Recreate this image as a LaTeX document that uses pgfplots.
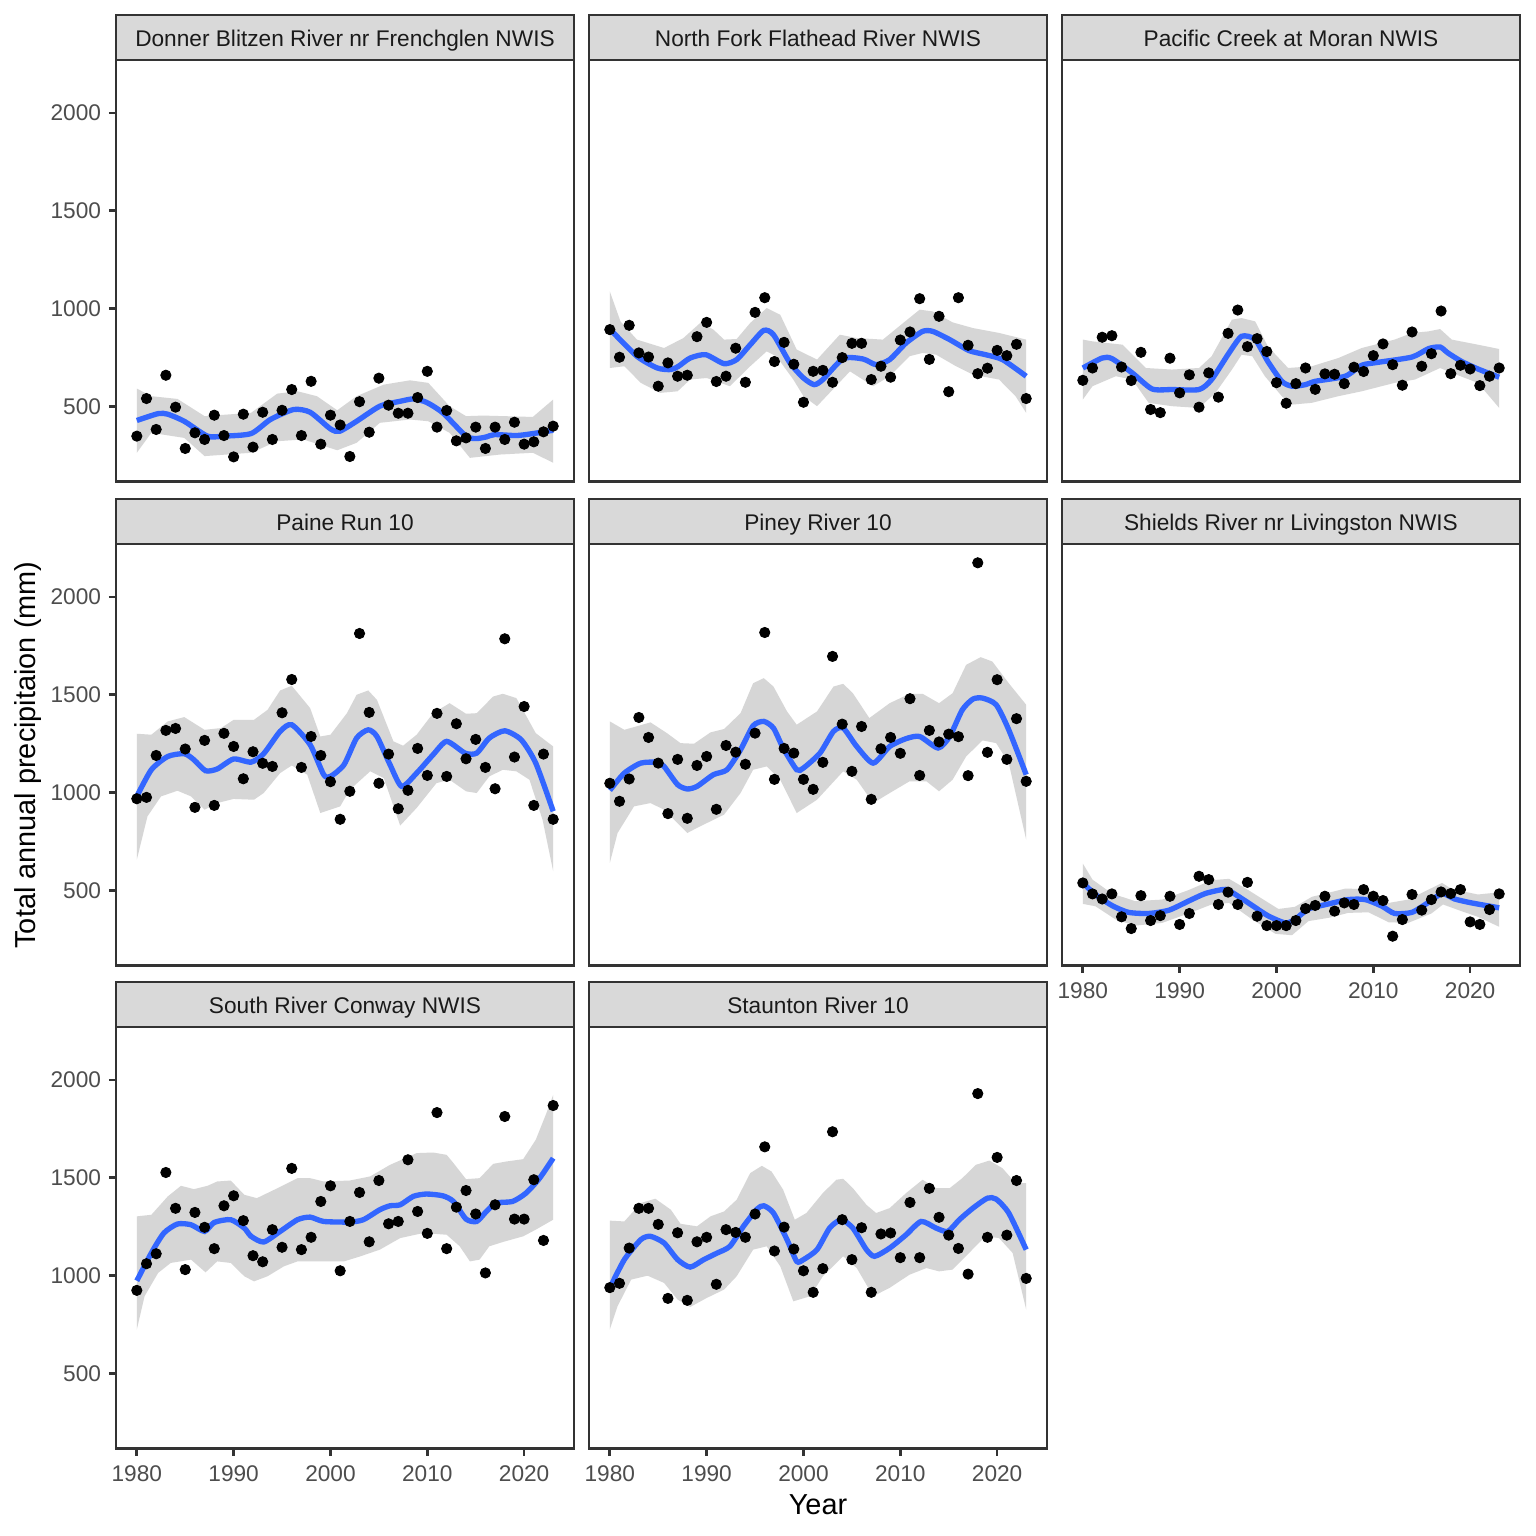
\documentclass[border=0pt]{standalone}
\usepackage{fontspec}
\setmainfont{Liberation Sans}
\usepackage{pgfplots}
\usepackage{pgfplotstable}
\pgfplotsset{compat=1.18}
\definecolor{gray20}{HTML}{333333}
\definecolor{gray30}{HTML}{4D4D4D}
\definecolor{gray85}{HTML}{D9D9D9}
\definecolor{gray10}{HTML}{1A1A1A}
\definecolor{gray60}{HTML}{999999}
\definecolor{smblue}{HTML}{3366FF}

\pgfplotstableread{
yr don nf pac pai pin shi sou sta
1980 349 893 634 969 1048 539 925 939
1981 541 752 697 976 956 483 1061 961
1982 383 915 854 1190 1070 457 1112 1141
1983 660 774 862 1318 1384 483 1527 1344
1984 497 753 702 1328 1282 366 1344 1344
1985 286 604 633 1223 1151 306 1031 1262
1986 366 723 777 925 893 474 1323 884
1987 332 655 485 1267 1170 347 1247 1219
1988 456 660 469 935 869 372 1138 874
1989 352 857 747 1303 1139 471 1357 1173
1990 243 930 570 1236 1185 327 1408 1196
1991 461 628 662 1071 915 383 1281 956
1992 293 655 497 1209 1241 573 1102 1235
1993 471 798 672 1150 1207 556 1071 1221
1994 332 624 548 1134 1145 429 1235 1196
1995 481 981 874 1408 1304 492 1145 1315
1996 587 1056 993 1578 1818 429 1548 1658
1997 352 730 806 1129 1068 542 1133 1126
1998 629 828 847 1287 1226 369 1196 1248
1999 308 716 781 1190 1202 321 1379 1136
2000 456 522 622 1056 1068 321 1459 1025
2001 406 680 517 864 1017 321 1025 915
2002 245 685 617 1007 1155 347 1277 1036
2003 525 624 697 1813 1696 408 1425 1735
2004 369 750 588 1410 1350 424 1173 1286
2005 645 823 667 1048 1109 471 1486 1082
2006 507 823 665 1197 1338 395 1265 1245
2007 466 638 617 918 966 437 1277 915
2008 466 706 701 1012 1224 429 1592 1213
2009 546 650 679 1226 1282 505 1328 1218
2010 680 840 760 1088 1201 471 1216 1092
2011 395 881 820 1405 1480 449 1833 1374
2012 480 1051 714 1083 1088 267 1138 1092
2013 325 741 609 1352 1318 352 1350 1446
2014 340 961 881 1173 1259 480 1435 1298
2015 395 576 706 1272 1299 400 1315 1207
2016 286 1056 770 1129 1286 454 1014 1139
2017 395 813 988 1020 1087 493 1362 1008
2018 332 668 668 1786 2174 485 1813 1930
2019 420 696 711 1182 1206 505 1289 1196
2020 308 787 692 1440 1577 340 1289 1604
2021 320 760 607 935 1170 327 1490 1207
2022 371 818 655 1197 1378 403 1180 1486
2023 400 541 697 864 1058 483 1869 986
}\pts

\pgfplotsset{
  panel/.style={
    scale only axis, width=206.1pt, height=189.7pt,
    anchor=north west,
    xmin=1977.85, xmax=2025.15, ymin=117, ymax=2270,
    axis line style={draw=gray20, line width=1.2pt},
    tick style={draw=gray20, line width=1.2pt},
    tick align=outside, major tick length=3.2pt,
    xtick=\empty, ytick=\empty,
    tick pos=left,
    ticklabel style={font=\fontsize{10.2}{12}\selectfont, text=gray30},
    xticklabel style={yshift=-0.8pt},
  },
  ylab/.style={ytick={500,1000,1500,2000}, yticklabels={500,1000,1500,2000}},
  xlab/.style={xtick={1980,1990,2000,2010,2020}, xticklabels={1980,1990,2000,2010,2020}},
  pts/.style={only marks, mark=*, mark size=2.3pt, black, mark options={draw=black, fill=black}},
  smline/.style={smblue, line width=2.4pt, smooth, tension=0.4},
  bandfill/.style={fill=gray60, fill opacity=0.4, draw=none},
}
\newcommand{\strip}[2]{%
  \draw[draw=gray20, line width=1.2pt, fill=gray85] (#1.north west) rectangle ([yshift=20.25pt]#1.north east);
  \node[font=\fontsize{10.2}{12}\selectfont, text=gray10, anchor=base, inner sep=0pt] at ([yshift=6.1pt]#1.north) {#2};
}

\begin{document}
\begin{tikzpicture}
\fill[white] (0,0) rectangle (691.2pt,-691.2pt);
\path[use as bounding box] (0,0) rectangle (691.2pt,-691.2pt);

% Panel 1: Donner
\begin{axis}[panel, ylab, at={(52.2pt,-27pt)}, name=p1]
\addplot[pts] table[x=yr,y=don]{\pts};
\addplot[bandfill] coordinates {(1980,592)(1981.5,553)(1984.2,539)(1987,451)(1991.8,468)(1994.5,566)(1996.6,578)(1998.6,553)(2000.7,481)(2002.7,553)(2005.5,612)(2008.2,634)(2010.1,621)(2012.3,502)(2014,451)(2015.75,454)(2020.9,447)(2023,536)
(2023,213)(2020.9,264)(2017.5,255)(2014.4,238)(2012.3,366)(2010.1,425)(2008.2,434)(2005.1,417)(2002.7,315)(2000.7,277)(1997.2,332)(1994.5,323)(1991.8,264)(1987,247)(1984.9,340)(1981.5,366)(1980,264)};
\addplot[smline] coordinates {(1980,429)(1982.2,464)(1983.2,461)(1984.9,425)(1987.3,349)(1989,349)(1991.8,362)(1993.8,434)(1996.2,485)(1997.9,471)(2000,386)(2000.95,374)(2002.7,425)(2005.1,502)(2007.2,527)(2008.55,539)(2009.9,522)(2011.6,468)(2014,349)(2015.1,337)(2016.1,345)(2016.95,357)(2019.2,352)(2020.9,362)(2023,379)};
\end{axis}

% Panel 2: North Fork
\begin{axis}[panel, at={(265.05pt,-27pt)}, name=p2]
\addplot[pts] table[x=yr,y=nf]{\pts};
\addplot[bandfill] coordinates {(1980,1088)(1981.1,935)(1982.8,842)(1985.6,799)(1987.6,850)(1989.4,930)(1990.7,893)(1991.8,842)(1993.1,845)(1994.5,927)(1996.2,1003)(1997.6,969)(1999.3,791)(2001.4,740)(2003.75,867)(2005.5,850)(2008.2,842)(2010.3,927)(2012,995)(2013.35,986)(2015.4,930)(2017.5,901)(2020.2,876)(2023,842)
(2023,468)(2021.9,553)(2020.2,638)(2017.5,663)(2015.75,706)(2013.7,765)(2012.3,774)(2010.95,757)(2008.9,655)(2007.2,604)(2004.8,680)(2002.7,570)(2001.4,502)(2000,553)(1998.95,638)(1997.2,757)(1996.2,782)(1994.5,706)(1992.4,604)(1990,646)(1988.3,638)(1987,578)(1985.2,570)(1983.2,621)(1981.5,706)(1980,697)};
\addplot[smline] coordinates {(1980,896)(1982.8,757)(1984.9,697)(1986.3,689)(1987.1,706)(1988.3,748)(1989.9,765)(1991.8,719)(1993.1,740)(1994.5,816)(1995.9,889)(1996.9,867)(1998.6,723)(2000,646)(2001.1,612)(2002,638)(2004.1,745)(2006.15,743)(2007.5,714)(2008.9,740)(2010.6,825)(2012.3,884)(2013.35,884)(2015.1,842)(2017.1,786)(2018.8,765)(2020.55,740)(2023,655)};
\end{axis}

% Panel 3: Pacific
\begin{axis}[panel, at={(477.9pt,-27pt)}, name=p3]
\addplot[pts] table[x=yr,y=pac]{\pts};
\addplot[bandfill] coordinates {(1980,842)(1981,833)(1984.1,816)(1986.5,697)(1989.2,689)(1992,697)(1993.3,757)(1995.4,944)(1996.4,952)(1997.8,935)(1999.1,808)(2001.2,697)(2003.65,706)(2006.4,748)(2008.8,799)(2012.2,842)(2014,876)(2015.7,884)(2016.9,896)(2018.1,842)(2020.8,816)(2023,794)
(2023,493)(2020.8,621)(2018.1,672)(2016.9,697)(2014.3,638)(2012.2,621)(2008.8,578)(2006.4,553)(2003.65,519)(2001.6,510)(2000.55,553)(1998.8,655)(1997.5,757)(1996.4,765)(1995.4,689)(1993.7,570)(1992,493)(1989.2,502)(1986.8,519)(1985.1,638)(1983.4,655)(1981,604)(1980,536)};
\addplot[smline] coordinates {(1980,697)(1982,748)(1983,745)(1985.1,672)(1987.15,590)(1989.2,587)(1992,587)(1993.3,638)(1995.1,774)(1996.4,859)(1997.8,842)(1999.1,731)(2000.55,629)(2001.6,604)(2003,612)(2004,629)(2007.1,655)(2008.8,711)(2010.5,726)(2014,753)(2015.7,796)(2016.9,804)(2017.7,774)(2019.1,731)(2020.8,692)(2023,650)};
\end{axis}

% Panel 4: Paine Run
\begin{axis}[panel, ylab, at={(52.2pt,-244.8pt)}, name=p4]
\addplot[pts] table[x=yr,y=pai]{\pts};
\addplot[bandfill] coordinates {(1980,1301)(1981.5,1296)(1983.2,1364)(1984.9,1386)(1987,1321)(1988.7,1330)(1990,1372)(1992.1,1372)(1993.5,1423)(1994.8,1522)(1996,1546)(1997.9,1432)(1998.95,1287)(2000,1296)(2001.7,1406)(2002.7,1500)(2003.9,1522)(2004.8,1474)(2006.5,1262)(2007.5,1240)(2008.9,1296)(2010.6,1406)(2012.3,1457)(2014,1403)(2015.1,1406)(2016.8,1491)(2017.8,1505)(2019.2,1483)(2021.2,1304)(2023,1236)
(2023,599)(2021.9,862)(2020.55,1066)(2019.2,1109)(2017.8,1117)(2016.4,1083)(2015.1,998)(2014,1007)(2012.3,1066)(2010.95,1049)(2008.9,922)(2007.2,832)(2005.5,1075)(2004.1,1109)(2002,1015)(2001,930)(1998.95,896)(1997.6,1092)(1996,1139)(1994.8,1100)(1993.1,998)(1992.1,964)(1990,968)(1988.3,947)(1987,913)(1985.6,981)(1984.2,1010)(1982.5,981)(1981.1,879)(1980,658)};
\addplot[smline] coordinates {(1980,981)(1981.5,1117)(1983.2,1185)(1984.9,1199)(1985.9,1168)(1987.1,1112)(1988.3,1121)(1990,1172)(1991.8,1156)(1993.1,1199)(1994.8,1313)(1996,1347)(1997.9,1245)(1999.3,1092)(2000,1083)(2001.4,1143)(2002.7,1279)(2003.9,1321)(2004.8,1287)(2006.15,1143)(2007.35,1032)(2008.9,1100)(2010.6,1194)(2012,1262)(2013.9,1202)(2015.1,1202)(2016.4,1279)(2018,1316)(2019.7,1270)(2021.2,1151)(2023,905)};
\end{axis}

% Panel 5: Piney River
\begin{axis}[panel, at={(265.05pt,-244.8pt)}, name=p5]
\addplot[pts] table[x=yr,y=pin]{\pts};
\addplot[bandfill] coordinates {(1980,1364)(1981.5,1321)(1984.2,1359)(1985.9,1304)(1987.3,1253)(1988.7,1250)(1990.4,1308)(1991.8,1325)(1993.5,1406)(1994.8,1559)(1995.9,1585)(1996.9,1542)(1998.3,1415)(1999.3,1347)(2001.4,1415)(2003.1,1542)(2004.1,1556)(2005.1,1508)(2006.8,1381)(2008.9,1457)(2010.95,1505)(2012.3,1505)(2014,1457)(2015.4,1508)(2016.8,1653)(2018.3,1692)(2019.5,1670)(2021.2,1559)(2023,1449)
(2023,760)(2021.2,1151)(2019.9,1253)(2018.5,1267)(2016.8,1185)(2015.4,1066)(2014,1007)(2012.7,1058)(2010.95,1058)(2008.9,998)(2007.2,947)(2005.5,1066)(2004.1,1109)(2001.4,964)(1999.3,896)(1997.6,1066)(1996.2,1134)(1994.8,1117)(1993.5,998)(1991.8,888)(1989,820)(1988,794)(1985.6,913)(1984.2,947)(1982.5,930)(1980.8,794)(1980,641)};
\addplot[smline] coordinates {(1980,1012)(1981.5,1100)(1983.2,1151)(1984.9,1155)(1985.6,1134)(1987,1041)(1988,1019)(1989,1032)(1990.7,1092)(1992.1,1117)(1993.5,1219)(1994.8,1342)(1995.9,1364)(1996.9,1330)(1997.9,1228)(1999.3,1117)(2000,1126)(2001.7,1202)(2003.1,1313)(2004.1,1330)(2005.5,1236)(2007.2,1151)(2008.9,1236)(2010.6,1276)(2012,1287)(2013.9,1228)(2015.1,1287)(2016.4,1423)(2017.5,1478)(2018.5,1483)(2019.9,1449)(2021.2,1321)(2023,1092)};
\end{axis}

% Panel 6: Shields
\begin{axis}[panel, xlab, at={(477.9pt,-244.8pt)}, name=p6]
\addplot[pts] table[x=yr,y=shi]{\pts};
\addplot[bandfill] coordinates {(1980,638)(1981,556)(1983,485)(1985.4,446)(1988.2,454)(1990.9,502)(1993.3,553)(1995.1,560)(1997.1,502)(2000.2,406)(2001.9,417)(2003.65,468)(2007.1,510)(2009.15,508)(2011.6,437)(2013.6,454)(2015.7,505)(2017.1,539)(2018.1,508)(2020.8,480)(2023,491)
(2023,315)(2020.8,366)(2019.1,395)(2017.2,429)(2016,383)(2013.6,335)(2011.6,338)(2009.5,389)(2007.4,386)(2005.4,361)(2003.3,344)(2001.6,272)(1999.9,279)(1997.5,352)(1995.1,437)(1993.3,429)(1990.9,383)(1988.2,335)(1985.4,321)(1983.4,352)(1981.3,420)(1980,432)};
\addplot[smline] coordinates {(1980,539)(1981.3,480)(1983,424)(1984.7,389)(1986.8,383)(1988.9,400)(1990.9,446)(1992.65,485)(1994.4,505)(1995.1,500)(1997.1,437)(1999.1,372)(2000.9,335)(2001.9,352)(2003.3,406)(2005.4,432)(2007.4,454)(2009.15,454)(2010.9,420)(2012.2,383)(2014,389)(2015.7,440)(2017.1,485)(2018.4,457)(2020.15,437)(2023,412)};
\end{axis}

% Panel 7: South River
\begin{axis}[panel, ylab, xlab, at={(52.2pt,-462.15pt)}, name=p7]
\addplot[pts] table[x=yr,y=sou]{\pts};
\addplot[bandfill] coordinates {(1980,1303)(1981.5,1311)(1983.2,1405)(1984.56,1459)(1985.9,1442)(1987.3,1459)(1988.3,1481)(1989.7,1486)(1991.1,1413)(1992.4,1396)(1994.2,1439)(1996.6,1498)(1997.9,1498)(1999.3,1481)(2002,1486)(2004.1,1507)(2006.15,1566)(2008.9,1626)(2010.6,1629)(2012,1617)(2012.7,1575)(2014,1493)(2015.4,1498)(2016.8,1571)(2018.15,1583)(2019.9,1595)(2021.2,1694)(2022.3,1830)(2023,1923)
(2023,1286)(2021.2,1235)(2019.9,1201)(2017.8,1172)(2016.4,1150)(2015.4,1082)(2014.4,1073)(2013.35,1150)(2012,1209)(2009.6,1218)(2007.2,1192)(2005.1,1133)(2003.1,1099)(2001.4,1073)(1998.6,1073)(1996.6,1073)(1995.2,1048)(1993.5,997)(1992.1,971)(1991.1,997)(1989.7,1065)(1988.3,1073)(1987.1,1017)(1985.6,1082)(1983.5,1065)(1982.2,1014)(1980.8,895)(1980,725)};
\addplot[smline] coordinates {(1980,974)(1981.5,1116)(1982.8,1218)(1984.2,1264)(1985.6,1260)(1987,1226)(1988,1272)(1989.7,1286)(1991.1,1243)(1991.8,1201)(1993.1,1172)(1994.8,1226)(1996.6,1286)(1997.9,1299)(1999.3,1277)(2002,1274)(2003.4,1286)(2005.1,1337)(2006.15,1357)(2007.2,1362)(2008.55,1405)(2009.9,1417)(2011.6,1408)(2012.7,1379)(2014,1289)(2015.1,1277)(2016.1,1328)(2017.1,1371)(2018.8,1379)(2020.2,1422)(2021.6,1498)(2023,1600)};
\end{axis}

% Panel 8: Staunton
\begin{axis}[panel, xlab, at={(265.05pt,-462.15pt)}, name=p8]
\addplot[pts] table[x=yr,y=sta]{\pts};
\addplot[bandfill] coordinates {(1980,1281)(1981.5,1277)(1983.2,1371)(1984.7,1393)(1986.3,1337)(1987.3,1265)(1989,1252)(1990.4,1303)(1991.8,1328)(1993.1,1388)(1994.5,1524)(1995.7,1561)(1996.7,1532)(1997.9,1439)(1999.1,1286)(2000.3,1320)(2002,1422)(2003.4,1490)(2004.1,1495)(2005.1,1447)(2006.5,1362)(2007.5,1320)(2008.9,1345)(2010.6,1422)(2012.3,1490)(2013.7,1447)(2015.1,1447)(2016.4,1498)(2017.8,1566)(2019.2,1588)(2020.55,1549)(2021.9,1473)(2023,1473)
(2023,827)(2021.6,1116)(2020.2,1192)(2018.8,1201)(2017.1,1116)(2015.4,1031)(2014,1022)(2012.7,1039)(2010.95,1005)(2008.9,938)(2007.2,895)(2005.5,1039)(2004.1,1099)(2002,997)(2000.7,895)(1998.95,869)(1997.6,1048)(1996.2,1150)(1994.8,1133)(1993.1,997)(1991.8,929)(1990,886)(1988.3,840)(1987,878)(1985.6,963)(1983.9,1000)(1982.2,980)(1980.8,844)(1980,725)};
\addplot[smline] coordinates {(1980,937)(1981.5,1082)(1983.2,1184)(1984.2,1201)(1985.6,1167)(1987,1082)(1988.3,1044)(1989.7,1082)(1991.1,1116)(1992.4,1150)(1993.8,1252)(1995.2,1340)(1995.9,1357)(1996.9,1320)(1998.3,1184)(1999.3,1073)(2000,1082)(2001.4,1133)(2002.7,1243)(2003.9,1286)(2005.1,1243)(2006.5,1133)(2007.35,1099)(2008.9,1141)(2010.6,1209)(2012.15,1277)(2013.7,1243)(2014.9,1226)(2016.1,1286)(2017.5,1345)(2019,1396)(2019.9,1391)(2021.2,1320)(2023,1133)};
\end{axis}

\strip{p1}{Donner Blitzen River nr Frenchglen NWIS}
\strip{p2}{North Fork Flathead River NWIS}
\strip{p3}{Pacific Creek at Moran NWIS}
\strip{p4}{Paine Run 10}
\strip{p5}{Piney River 10}
\strip{p6}{Shields River nr Livingston NWIS}
\strip{p7}{South River Conway NWIS}
\strip{p8}{Staunton River 10}

\node[rotate=90, font=\fontsize{13}{15}\selectfont, text=black] at (12.6pt,-339.75pt) {Total annual precipitaion (mm)};
\node[font=\fontsize{13}{15}\selectfont, text=black] at (368.1pt,-677.25pt) {Year};
\end{tikzpicture}
\end{document}
